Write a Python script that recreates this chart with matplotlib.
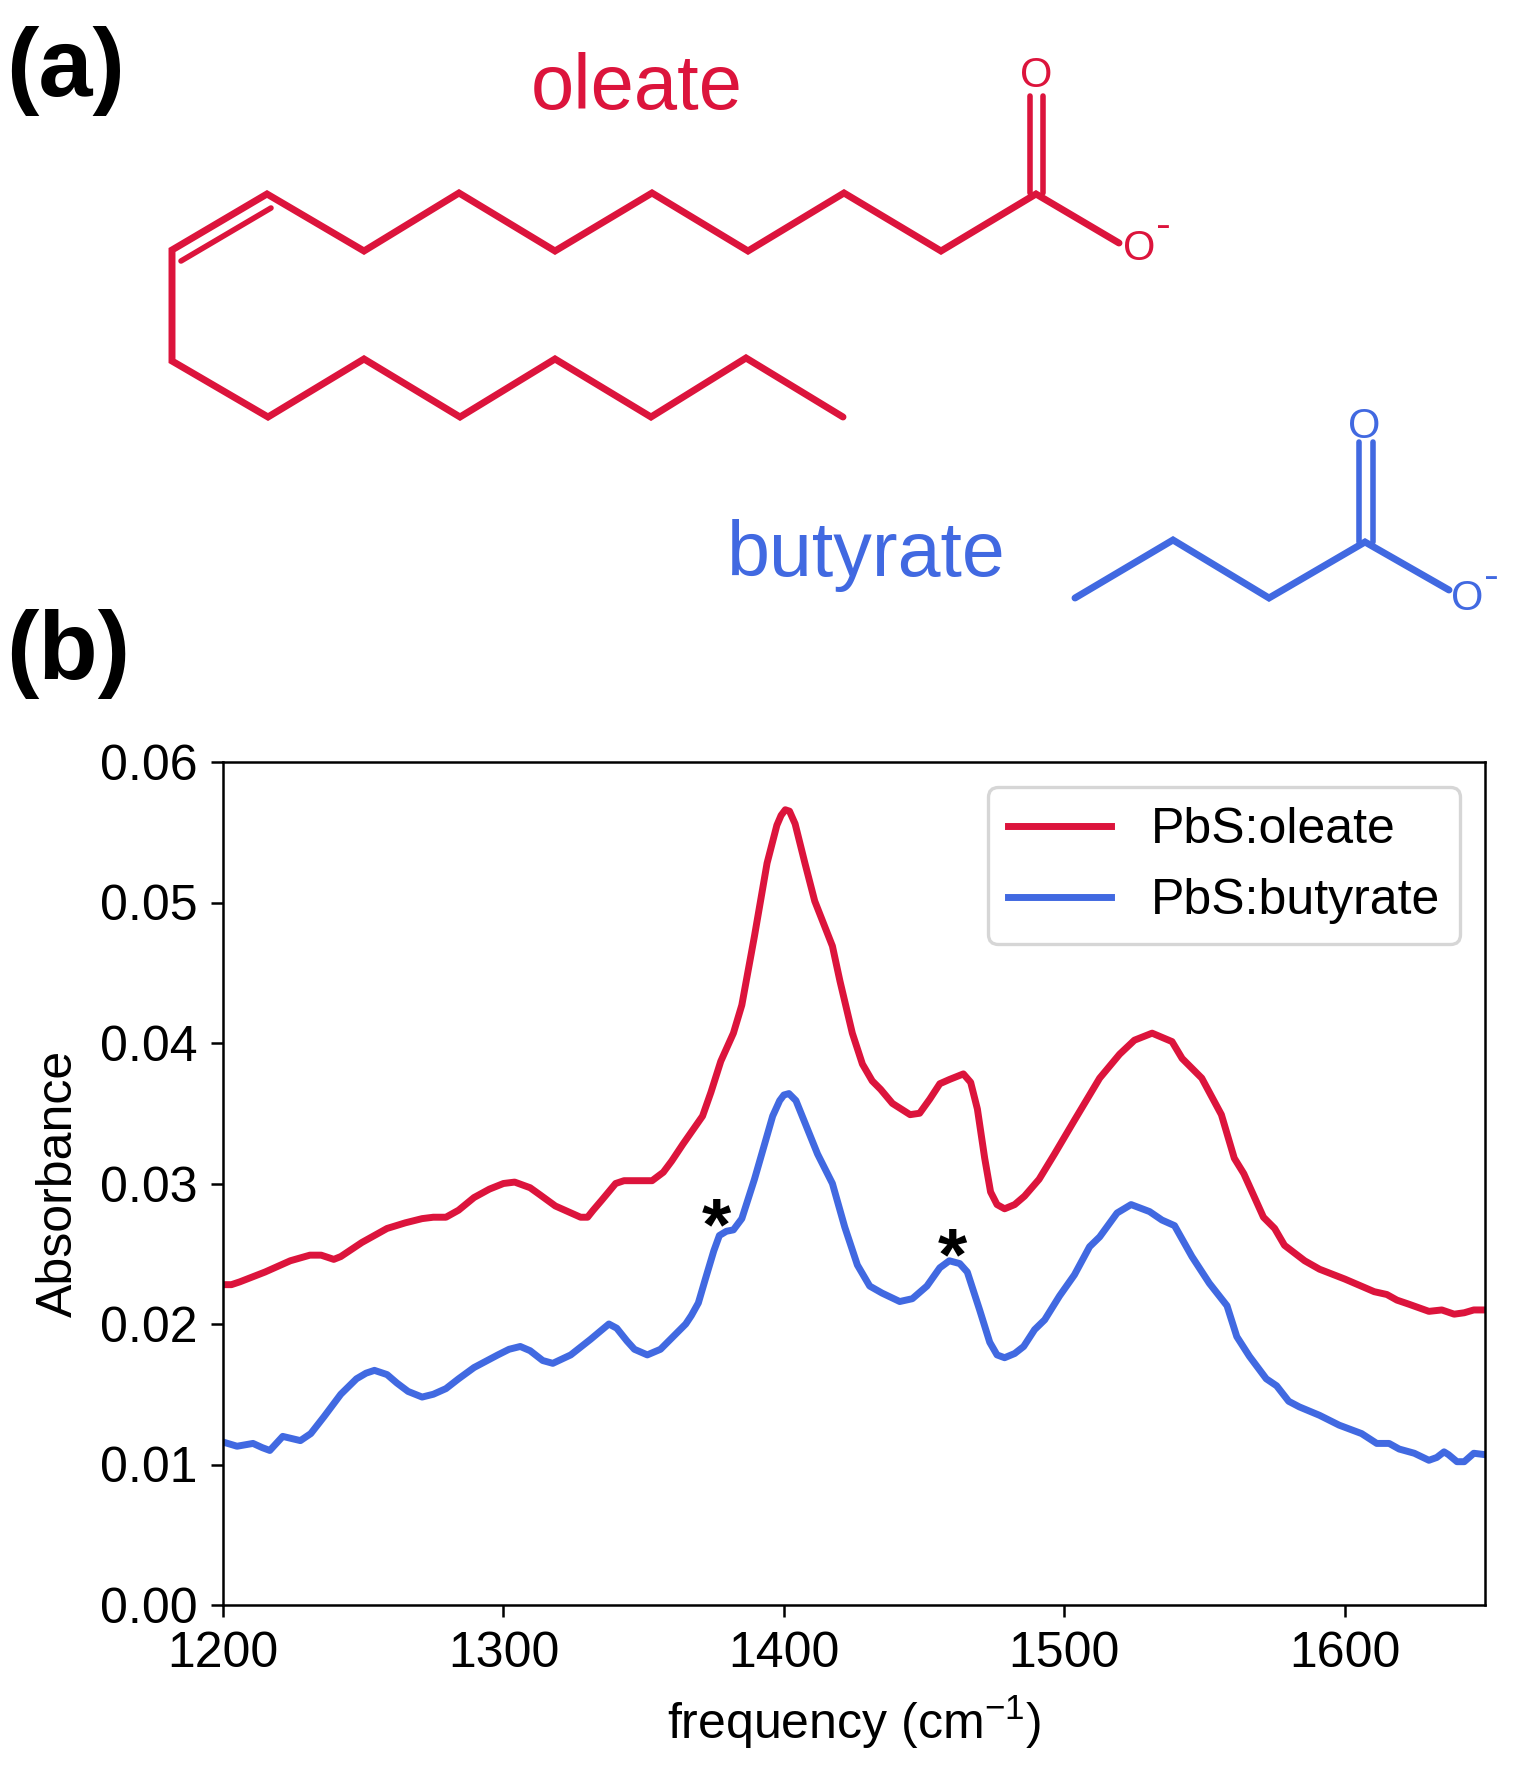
import matplotlib
matplotlib.use('Agg')
import matplotlib.pyplot as plt

plt.rcParams['font.family'] = ['Liberation Sans', 'DejaVu Sans']
plt.rcParams['mathtext.default'] = 'regular'

# Spectra
oleateFreq = [1200, 1203, 1206, 1215, 1224, 1231, 1235, 1239.5, 1242, 1249.5, 1258.5, 1265, 1271, 1275, 1279.5, 1284, 1289.5,
              1295, 1300, 1304, 1309.5, 1313, 1318.5, 1323, 1327.5, 1330, 1332, 1335, 1340, 1343, 1346, 1353, 1357, 1360, 1364, 1371,
              1374, 1377.5, 1382, 1385, 1389.5, 1394, 1397.5, 1399, 1400.5, 1402, 1404, 1407.5, 1411, 1417.3, 1420,
              1424.4, 1428, 1431.5, 1434.5, 1438.7, 1445, 1448.4, 1452, 1455.6, 1459, 1464, 1466.6, 1469, 1471.6,
              1473.7, 1476, 1478.7, 1482.3, 1485.8, 1491, 1496.5, 1503.6, 1512.6, 1519.7, 1525, 1531.3, 1538.4, 1542,
              1549, 1556, 1560.6, 1564, 1571, 1575, 1578.5, 1585.7, 1591, 1600, 1610.5, 1615, 1618.6, 1623, 1630,
              1634.6, 1639, 1642.6, 1646, 1650]
oleateAbs = [.0228, .0228, .0230, .0237, .0245, .0249, .0249, .0246, .0248, .0258, .0268, .0272, .0275, .0276, .0276, .0281, .0290,
             .0296, .0300, .0301, .0297, .0292, .0284, .0280, .0276, .0276, .0281, .0288, .0300, .0302, .0302, .0302, .0308, .0316, .0328, .0348,
             .0365, .0387, .0407, .0427, .0476, .0528, .0555, .0562, .0566, .0565, .0556, .0528, .0501, .0469, .0444,
             .0407, .0385, .0373, .0367, .0357, .0349, .0350, .0360, .0371, .0374, .0378, .0372, .0353, .0318,
             .0294, .0285, .0282, .0285, .0291, .0303, .0321, .0345, .0375, .0392, .0402, .0407, .0401, .0389,
             .0375, .0349, .0318, .0307, .0276, .0268, .0256, .0245, .0239, .0232, .0223, .0221, .0217, .0214, .0209,
             .0210, .0207, .0208, .0210, .0210]

butyrateFreq = [1200, 1205, 1210.7, 1214, 1216.7, 1221.3, 1227.6, 1231.3, 1236, 1242, 1247.6, 1251, 1254, 1258.5, 1262, 1266, 1271,
                1275, 1279.5, 1284, 1289.5, 1298, 1302, 1306, 1309.5, 1314, 1317.6, 1324, 1331, 1337.6, 1340.4, 1344, 1346.7, 1351.3,
                1356, 1360, 1365, 1367, 1369.5, 1372, 1375, 1377, 1379.5, 1382, 1385, 1389.5, 1396, 1398.5, 1400, 1401.8, 1404.3, 1412,
                1417.3, 1421.7, 1426.2, 1430.6, 1435, 1441.3, 1445.8, 1451, 1455.6, 1459, 1462.7, 1465.4,
                1469.8, 1473.4, 1476, 1478.7, 1482.3, 1485.5, 1489.4, 1493, 1498.3, 1503.6, 1509, 1512.6,
                1518.8, 1523.8, 1530.4, 1534.8, 1539.3, 1545.5, 1551.7, 1558, 1561.5, 1566, 1572, 1575.7,
                1580, 1583.8, 1591, 1598, 1606, 1611.4, 1615.8, 1619.4, 1624.8, 1630, 1632.8, 1635.4, 1637,
                1640, 1642.6, 1646, 1650]
butyrateAbs = [.0116, .0113, .0115, .0112, .0110, .0120, .0117, .0122, .0134, .0150, .0161, .0165, .0167, .0164, .0158, .0152, .0148,
               .0150, .0154, .0161, .0169, .0178, .0182, .0184, .0181, .0174, .0172, .0178, .0189, .0200, .0197, .0188, .0182, .0178,
               .0182, .0190, .0200, .0206, .0215, .0232, .0252, .0263, .0266, .0267, .0275, .0303, .0348, .0359, .0363, .0364, .0359, .0321,
               .0300, .0269, .0242, .0227, .0222, .0216, .0218, .0227, .0240, .0245, .0243, .0237,
               .0210, .0187, .0178, .0176, .0179, .0184, .0196, .0203, .0220, .0235, .0255, .0262,
               .0279, .0285, .0280, .0274, .0270, .0248, .0229, .0213, .0191, .0177, .0161, .0156,
               .0145, .0141, .0135, .0128, .0122, .0115, .0115, .0111, .0108, .0103, .0105, .0109, .0107,
               .0102, .0102, .0108, .0107]

xTicks = [1200, 1300, 1400, 1500, 1600]
yTicks = [0.00, 0.01, 0.02, 0.03, 0.04, 0.05, 0.06]
starFreq = [1376, 1460]
starAbs = [.0253, .0232]

# Structures, in picture pixels
oleateBonds = [(843, 417), (746, 358), (651, 417), (555, 359), (460, 417), (364, 359), (268, 417), (172, 361),
               (172, 250), (267, 194), (364, 251), (459, 193), (555, 251), (652, 193), (748, 251), (844, 193),
               (941, 251), (1036, 194), (1119, 243)]
oleateCisBond = [(181, 261), (271, 208)]
oleateCarbonyl = [[(1030, 193), (1030, 96)], [(1043, 193), (1043, 96)]]
butyrateBonds = [(1075, 598), (1173, 540), (1269, 598), (1365, 542), (1449, 590)]
butyrateCarbonyl = [[(1359, 542), (1359, 442)], [(1373, 542), (1373, 442)]]

red = '#DC143C'
blue = '#4169E1'
W = 1533
H = 1787
FS = 36

fig = plt.figure(figsize=(W / 100, H / 100), dpi=100)

# top part drawn on a pixel overlay
over = fig.add_axes([0, 0, 1, 1])
over.set_xlim(0, W)
over.set_ylim(H, 0)
over.axis('off')


def drawLine(pts, color, lw):
    over.plot([p[0] for p in pts], [p[1] for p in pts], color=color, linewidth=lw,
              solid_joinstyle='miter', solid_capstyle='round')


drawLine(oleateBonds, red, 5.0)
drawLine(oleateCisBond, red, 4.0)
for bond in oleateCarbonyl:
    drawLine(bond, red, 4.0)
drawLine(butyrateBonds, blue, 5.0)
for bond in butyrateCarbonyl:
    drawLine(bond, blue, 4.0)

over.text(637, 109, 'oleate', color=red, fontsize=56, ha='center', va='baseline')
over.text(866, 576, 'butyrate', color=blue, fontsize=55.5, ha='center', va='baseline')
over.text(1036, 87, 'O', color=red, fontsize=30, ha='center', va='baseline')
over.text(1139, 260, 'O', color=red, fontsize=30, ha='center', va='baseline')
over.text(1163, 238, '-', color=red, fontsize=32, ha='center', va='baseline')
over.text(1364, 438, 'O', color=blue, fontsize=30, ha='center', va='baseline')
over.text(1467, 610, 'O', color=blue, fontsize=30, ha='center', va='baseline')
over.text(1491, 589, '-', color=blue, fontsize=32, ha='center', va='baseline')
over.text(6, 96, '(a)', color='black', fontsize=70, fontweight='bold', ha='left', va='baseline')
over.text(6, 679, '(b)', color='black', fontsize=70, fontweight='bold', ha='left', va='baseline')

# spectra
left, right, top, bottom = 223, 1485, 762, 1605
ax = fig.add_axes([left / W, 1 - bottom / H, (right - left) / W, (bottom - top) / H])
ax.plot(oleateFreq, oleateAbs, color=red, linewidth=5.0, label='PbS:oleate')
ax.plot(butyrateFreq, butyrateAbs, color=blue, linewidth=5.0, label='PbS:butyrate')
ax.set_xlim(1200, 1650)
ax.set_ylim(0, 0.06)
ax.set_xticks(xTicks)
ax.set_yticks(yTicks)
ax.set_yticklabels(['%.2f' % t for t in yTicks])
ax.tick_params(labelsize=FS, length=8.6, width=1.8, pad=10)
for spine in ax.spines.values():
    spine.set_linewidth(1.8)
ax.set_xlabel('frequency (cm$^{-1}$)', fontsize=FS, labelpad=12)
ax.set_ylabel('Absorbance', fontsize=FS, labelpad=13)
leg = ax.legend(loc='upper right', fontsize=FS, framealpha=0.8, handlelength=2.06)
leg.get_frame().set_linewidth(2.4)
for f, a in zip(starFreq, starAbs):
    ax.text(f, a, '*', fontsize=54, fontweight='bold', ha='center', va='baseline', color='black')

fig.savefig('out.png', dpi=100)
